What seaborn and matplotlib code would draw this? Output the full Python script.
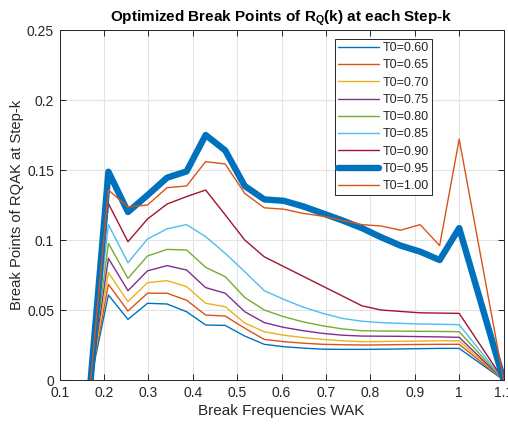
"""
Optimized break points of R_Q(k) at each step-k, one line per T0.
Writes out.png (508x428).
"""

import pandas as pd
import matplotlib.pyplot as plt
import seaborn as sns

# --- DATA ---
freq = [0.17, 0.21, 0.254, 0.298, 0.342, 0.386, 0.429, 0.473, 0.517, 0.561,
        0.605, 0.649, 0.693, 0.737, 0.781, 0.824, 0.868, 0.912, 0.956, 1.0, 1.1]

t060 = [0, 0.0607, 0.0433, 0.0548, 0.0543, 0.0488, 0.0393, 0.0390, 0.0314, 0.0255,
        0.0238, 0.0228, 0.0220, 0.0219, 0.0219, 0.0220, 0.0222, 0.0224, 0.0226, 0.0226, 0]
t065 = [0, 0.0683, 0.0493, 0.0620, 0.0620, 0.0570, 0.0464, 0.0457, 0.0370, 0.0290,
        0.0274, 0.0263, 0.0255, 0.0252, 0.0250, 0.0251, 0.0253, 0.0254, 0.0255, 0.0255, 0]
t070 = [0, 0.0767, 0.0560, 0.0695, 0.0710, 0.0667, 0.0548, 0.0524, 0.0407, 0.0345,
        0.0320, 0.0303, 0.0290, 0.0280, 0.0274, 0.0275, 0.0277, 0.0278, 0.0280, 0.0280, 0]
t075 = [0, 0.0869, 0.0638, 0.0780, 0.0817, 0.0786, 0.0660, 0.0620, 0.0488, 0.0410,
        0.0376, 0.0352, 0.0333, 0.0320, 0.0314, 0.0313, 0.0312, 0.0310, 0.0308, 0.0305, 0]
t080 = [0, 0.0976, 0.0726, 0.0886, 0.0933, 0.0929, 0.0805, 0.0738, 0.0590, 0.0500,
        0.0452, 0.0415, 0.0387, 0.0365, 0.0352, 0.0350, 0.0349, 0.0348, 0.0347, 0.0345, 0]
t085 = [0, 0.1110, 0.0838, 0.1007, 0.1080, 0.1110, 0.1024, 0.0905, 0.0774, 0.0638,
        0.0576, 0.0520, 0.0476, 0.0440, 0.0420, 0.0410, 0.0405, 0.0400, 0.0398, 0.0395, 0]
t090 = [0, 0.1260, 0.0988, 0.1150, 0.1257, 0.1310, 0.1357, 0.1180, 0.1000, 0.0880,
        0.0810, 0.0740, 0.0670, 0.0600, 0.0530, 0.0500, 0.0490, 0.0480, 0.0478, 0.0476, 0]
t095 = [0, 0.1488, 0.1200, 0.1320, 0.1445, 0.1490, 0.1750, 0.1640, 0.1386, 0.1290,
        0.1280, 0.1240, 0.1190, 0.1140, 0.1085, 0.1020, 0.0960, 0.0917, 0.0857, 0.1085, 0]
t100 = [0, 0.1357, 0.1236, 0.1250, 0.1374, 0.1386, 0.1560, 0.1543, 0.1333, 0.1230,
        0.1220, 0.1190, 0.1170, 0.1140, 0.1110, 0.1100, 0.1070, 0.1110, 0.0960, 0.1720, 0]

labels = ["T0=0.60", "T0=0.65", "T0=0.70", "T0=0.75", "T0=0.80",
          "T0=0.85", "T0=0.90", "T0=0.95", "T0=1.00"]
series = [t060, t065, t070, t075, t080, t085, t090, t095, t100]

# MATLAB default line colours
colors = ["#0072BD", "#D95319", "#EDB120", "#7E2F8E", "#77AC30",
          "#4DBEEE", "#A2142F", "#0072BD", "#D95319"]
widths = [1.0] * 9
widths[7] = 4.6  # T0=0.95 is drawn thick

x_ticks = [0.1, 0.2, 0.3, 0.4, 0.5, 0.6, 0.7, 0.8, 0.9, 1.0, 1.1]
x_tick_labels = ["0.1", "0.2", "0.3", "0.4", "0.5", "0.6", "0.7", "0.8", "0.9", "1", "1.1"]
y_ticks = [0, 0.05, 0.1, 0.15, 0.2, 0.25]
y_tick_labels = ["0", "0.05", "0.1", "0.15", "0.2", "0.25"]


def main():
    sns.set_theme(style="whitegrid")
    plt.rcParams['font.family'] = ['Liberation Sans', 'DejaVu Sans']
    plt.rcParams['mathtext.fontset'] = 'custom'
    plt.rcParams['mathtext.bf'] = 'Liberation Sans:bold'
    plt.rcParams['mathtext.rm'] = 'Liberation Sans'

    fig = plt.figure(figsize=(5.08, 4.28), dpi=100)
    ax = fig.add_axes([0.1173, 0.1121, 0.874, 0.8178])

    for lab, vals, col, lw in zip(labels, series, colors, widths):
        df = pd.DataFrame({"freq": freq, "val": vals})
        sns.lineplot(data=df, x="freq", y="val", color=col, lw=lw,
                     label=lab, ax=ax, sort=False, estimator=None)

    ax.set_xlim(0.1, 1.1)
    ax.set_ylim(0, 0.25)
    ax.set_xticks(x_ticks)
    ax.set_xticklabels(x_tick_labels)
    ax.set_yticks(y_ticks)
    ax.set_yticklabels(y_tick_labels)

    ax.set_facecolor("white")
    ax.grid(True, color="#e3e3e3", lw=0.8)
    for sp in ax.spines.values():
        sp.set_visible(True)
        sp.set_color("#262626")
        sp.set_linewidth(0.7)
    ax.tick_params(direction="in", length=4, width=0.7, color="#262626",
                   labelsize=10, labelcolor="#262626", top=True, right=True,
                   bottom=True, left=True, pad=4)

    ax.set_xlabel("Break Frequencies WAK", fontsize=11, color="#262626", labelpad=3)
    ax.set_ylabel("Break Points of RQAK at Step-k", fontsize=10.6, color="#262626", labelpad=2)
    ax.set_title(r"Optimized Break Points of $\mathbf{R_Q}$(k) at each Step-k",
                 fontsize=11, fontweight="bold", color="black", pad=6)

    # legend built from the drawn lines so handles keep their colours
    handles = ax.get_lines()[:len(labels)]
    leg = ax.legend(handles, labels, loc="upper right", bbox_to_anchor=(0.8387, 0.974),
                    fontsize=9, frameon=True, fancybox=False, edgecolor="#262626",
                    framealpha=1, handlelength=3.3, labelspacing=0.42,
                    borderpad=0.25, handletextpad=0.25, borderaxespad=0)
    leg.get_frame().set_linewidth(0.7)

    fig.savefig("out.png", dpi=100)


if __name__ == "__main__":
    main()
